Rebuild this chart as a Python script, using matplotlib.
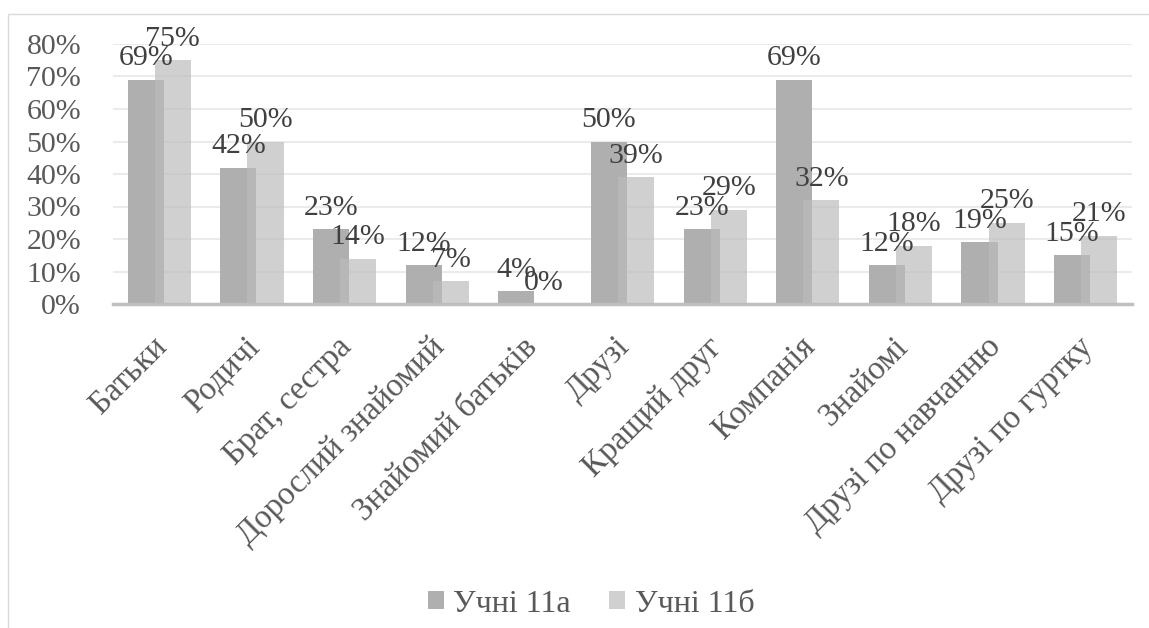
import matplotlib.pyplot as plt
from matplotlib.patches import Rectangle
import numpy as np

plt.rcParams['font.family'] = ['Liberation Serif', 'DejaVu Serif']

categories = ['Батьки', 'Родичі', 'Брат, сестра', 'Дорослий знайомий',
              'Знайомий батьків', 'Друзі', 'Кращий друг', 'Компанія',
              'Знайомі', 'Друзі по навчанню', 'Друзі по гуртку']
class_a = [69, 42, 23, 12, 4, 50, 23, 69, 12, 19, 15]
class_b = [75, 50, 14, 7, 0, 39, 29, 32, 18, 25, 21]
series_names = ['Учні 11а', 'Учні 11б']

W, H = 1149, 628
fig = plt.figure(figsize=(W / 100, H / 100), dpi=100)
ax = fig.add_axes([113 / W, (H - 304) / H, (1132 - 113) / W, (304 - 44) / H])

x = np.arange(len(categories))
width = 0.39
off = 0.146
fs = 21.5
fs_cat = 23.5

bars_a = ax.bar(x - off, np.array(class_a) / 100, width, color='#afafaf',
                label=series_names[0], zorder=2)
bars_b = ax.bar(x + off, np.array(class_b) / 100, width, color='#bcbcbc',
                alpha=0.69, label=series_names[1], zorder=3)

for bars, vals in [(bars_a, class_a), (bars_b, class_b)]:
    for b, v in zip(bars, vals):
        ax.annotate(f'{v}%', (b.get_x() + b.get_width() / 2, b.get_height()),
                    xytext=(0, 6), textcoords='offset points', ha='center',
                    va='bottom', fontsize=fs, color='#404040', zorder=5)

ax.set_xlim(-0.5, len(categories) - 0.5)
ax.set_ylim(0, 0.8)
ticks = np.arange(0, 0.81, 0.1)
ax.set_yticks(ticks)
ax.set_yticklabels([f'{int(round(t * 100))}%' for t in ticks])
ax.yaxis.grid(True, color='#ebebeb', lw=1.5, zorder=0)
ax.set_axisbelow(True)
ax.tick_params(axis='y', length=0, pad=23, labelsize=fs, labelcolor='#595959')
ax.tick_params(axis='x', length=0, pad=6, labelsize=fs_cat, labelcolor='#595959')
ax.set_xticks(x + 0.03)
ax.set_xticklabels(categories, rotation=45, ha='right', va='center',
                   rotation_mode='anchor')
for lbl in ax.get_xticklabels():
    lbl.set_y(-0.035 - 21 / 260)

for s in ['top', 'right', 'left']:
    ax.spines[s].set_visible(False)
ax.spines['bottom'].set_color('#bfbfbf')
ax.spines['bottom'].set_linewidth(2.5)

fig.legend(handles=[bars_a, bars_b], labels=series_names, loc='center',
           bbox_to_anchor=(591 / W, (H - 604) / H), ncol=2, frameon=False,
           fontsize=23, labelcolor='#595959', handlelength=0.5,
           handleheight=0.5, handletextpad=0.3, columnspacing=1.2)

fig.add_artist(Rectangle((8 / W, -0.1), 1.5, (H - 14) / H + 0.1,
                         transform=fig.transFigure, fill=False,
                         ec='#d9d9d9', lw=1))

fig.savefig('out.png', dpi=100, facecolor='white')
